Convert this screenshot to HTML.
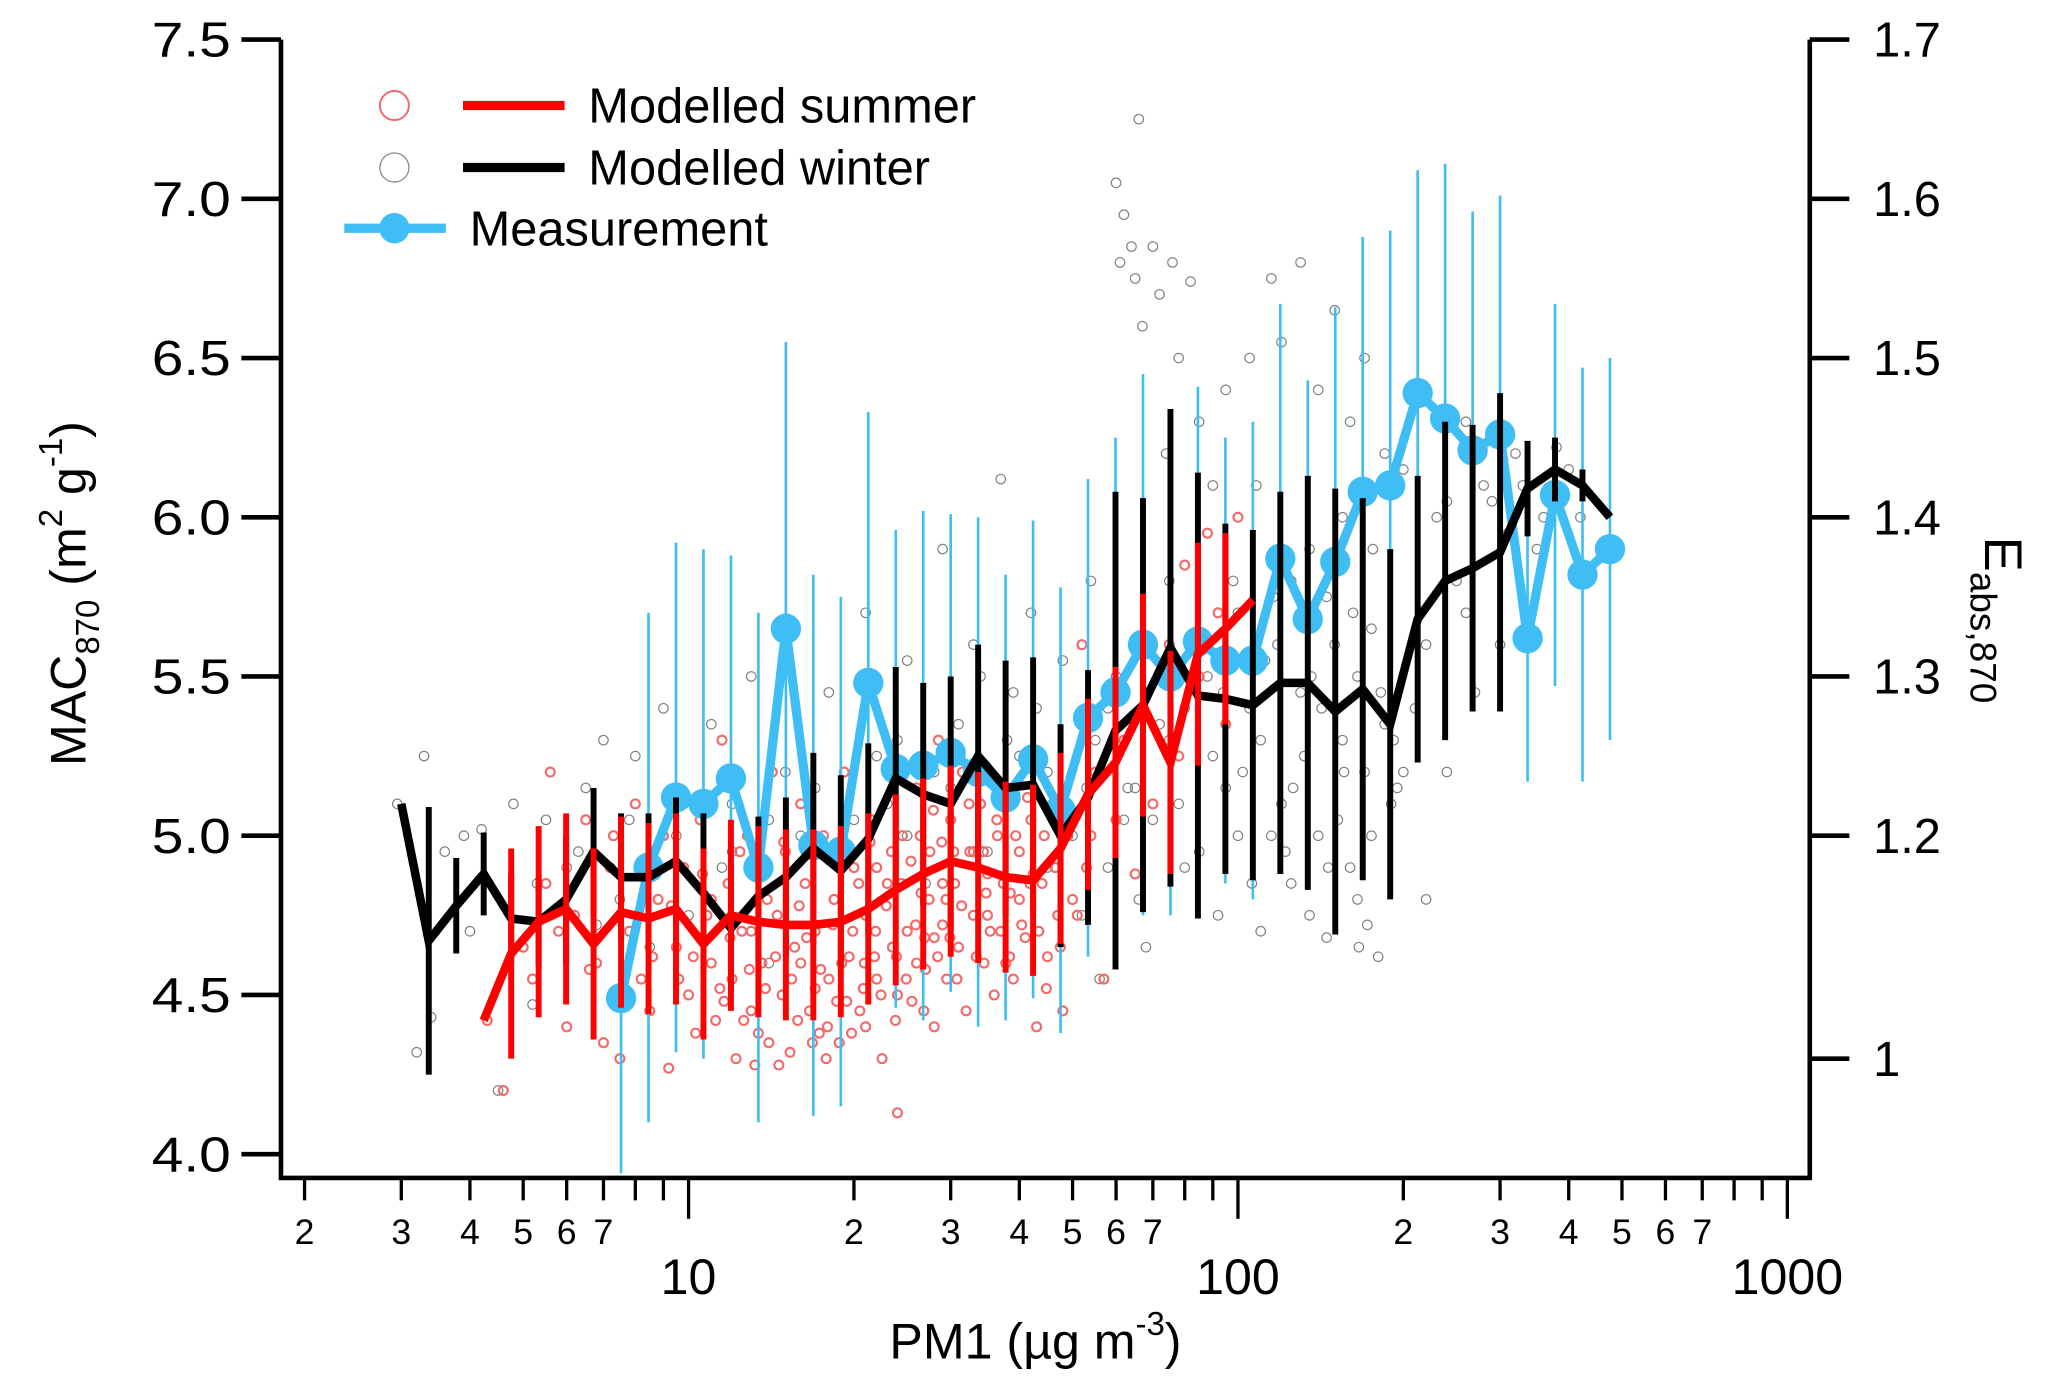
<!DOCTYPE html>
<html><head><meta charset="utf-8"><style>
html,body{margin:0;padding:0;background:#fff;}
svg{display:block;font-family:"Liberation Sans",Arial,sans-serif;}
</style></head><body>
<svg id="chart" width="2067" height="1387" viewBox="0 0 1567 1051.5" xmlns="http://www.w3.org/2000/svg">
<g id="scatter"></g>
<g id="series"></g>
<g id="axes"></g>
</svg>
<script>
// ---- data ----
const winterMean = [5.10,4.67,4.78,4.88,4.74,4.73,4.80,4.95,4.87,4.87,4.92,4.82,4.71,4.81,4.87,4.96,4.89,4.99,5.18,5.13,5.10,5.25,5.15,5.16,5.00,5.12,5.33,5.41,5.59,5.44,5.43,5.41,5.48,5.48,5.39,5.46,5.35,5.68,5.80,5.84,5.89,6.09,6.15,6.10,6.00];
const winterErr  = [0,0.42,0.15,0.13,0.14,0.14,0.2,0.2,0.2,0.2,0.2,0.25,0.2,0.25,0.25,0.3,0.3,0.3,0.35,0.35,0.4,0.35,0.4,0.4,0.35,0.4,0.75,0.65,0.75,0.7,0.55,0.55,0.6,0.65,0.7,0.6,0.55,0.45,0.5,0.45,0.5,0.15,0.1,0.05,0];
const summerStart = 3;
const summerMean = [4.42,4.63,4.73,4.77,4.66,4.76,4.74,4.77,4.66,4.75,4.73,4.72,4.72,4.73,4.77,4.83,4.88,4.92,4.90,4.87,4.86,4.96,5.13,5.23,5.41,5.23,5.57,5.65,5.74];
const summerErr  = [0,0.33,0.3,0.3,0.3,0.3,0.3,0.3,0.3,0.3,0.3,0.3,0.3,0.3,0.3,0.3,0.3,0.3,0.3,0.3,0.3,0.3,0.3,0.3,0.35,0.35,0.35,0.3,0];
const measStart = 8;
const measMean = [4.49,4.90,5.12,5.10,5.18,4.90,5.65,4.97,4.95,5.48,5.21,5.22,5.26,5.20,5.12,5.24,5.08,5.37,5.45,5.60,5.50,5.61,5.55,5.55,5.87,5.68,5.86,6.08,6.10,6.39,6.31,6.21,6.26,5.62,6.07,5.82,5.90];
const measErr  = [0.55,0.8,0.8,0.8,0.7,0.8,0.9,0.85,0.8,0.85,0.75,0.8,0.75,0.8,0.7,0.75,0.7,0.75,0.8,0.85,0.75,0.8,0.7,0.75,0.8,0.75,0.8,0.8,0.8,0.7,0.8,0.75,0.75,0.45,0.6,0.65,0.6];
const summerPts = [[4.3,4.42],[4.6,4.2],[5,4.65],[5.2,4.55],[5.5,4.85],[5.6,5.2],[6,4.4],[6.2,4.75],[6.5,5.05],[6.8,4.6],[7,4.35],[7.2,4.9],[7.5,4.3],[7.8,4.7],[8,5.1],[8.2,4.55],[8.5,4.45],[8.8,4.8],[9,5.0],[9.2,4.27],[9.5,4.65],[9.8,4.9],[10,4.5],[10.3,4.38],[10.5,5.05],[10.8,4.75],[11,4.6],[11.2,4.42],[11.5,5.3],[11.8,4.85],[12,4.55],[12.2,4.3],[12.5,4.7],[12.8,5.0],[13,4.45],[13.3,4.9],[13.6,4.6],[14,4.35],[14.2,5.2],[14.5,4.75],[14.8,4.5],[15,4.95],[15.3,4.32],[15.6,4.65],[16,5.1],[16.3,4.85],[16.6,4.45],[17,4.7],[17.3,4.38],[17.6,5.0],[18,4.55],[18.4,4.8],[18.8,4.35],[19.2,5.2],[19.6,4.62],[20,4.9],[20.5,4.45],[21,4.75],[21.5,5.05],[22,4.55],[22.5,4.3],[23,4.85],[23.5,4.65],[24,4.13],[24.5,5.0],[25,4.7],[25.5,4.48],[26,5.15],[26.5,4.82],[27,4.58],[27.5,4.95],[28,4.4],[28.5,5.3],[29,4.72],[29.5,4.55],[30,5.05],[30.5,4.85],[31,4.65],[31.5,5.2],[32,4.45],[32.5,4.95],[33,4.75],[34,5.1],[34.5,4.6],[35,4.88],[36,4.5],[36.5,5.0],[37,4.7],[38,5.15],[38.5,4.82],[39,4.55],[40,4.95],[41,4.68],[42,5.05],[43,4.4],[44,4.85],[45,4.62],[46,5.1],[47,4.75],[48,4.45],[49,5.0],[50,4.8],[52,5.6],[53,4.9],[55,5.2],[57,4.55],[60,5.05],[62,5.3],[65,4.88],[68,5.45],[70,5.1],[75,5.6],[78,5.25],[80,5.85],[85,5.5],[88,5.95],[92,5.7],[95,5.35],[100,6.0],[19,4.6],[22,4.9],[26,4.6],[29,4.85],[33,4.95],[16,4.6],[13,4.7],[11,4.8],[24,4.5],[21,4.4],[35,4.75],[40,4.8],[17,4.52],[28,4.68],
[10.2,4.62],[10.6,4.88],[11.4,4.52],[11.9,4.68],[12.4,4.95],[12.9,4.58],[13.4,4.38],[13.9,4.8],[14.4,4.62],[14.9,4.98],[15.4,4.55],[15.9,4.78],[16.4,4.68],[16.9,4.95],[17.4,4.58],[17.9,4.4],[18.3,4.72],[18.9,4.92],[19.4,4.48],[19.9,4.7],[20.4,4.85],[20.9,4.6],[21.4,4.98],[21.9,4.7],[22.4,4.5],[22.9,4.78],[23.4,4.95],[23.9,4.62],[24.4,4.85],[24.9,4.55],[25.4,4.92],[25.9,4.72],[26.4,5.0],[26.9,4.68],[27.4,4.8],[27.9,5.08],[28.4,4.62],[28.9,4.98],[29.4,4.8],[29.9,4.68],[30.4,4.95],[31.4,4.78],[32.4,5.1],[33.4,4.62],[34.4,4.95],[35.4,4.7],[36.4,5.05],[37.4,4.85],[38.4,4.62],[39.4,5.0],[40.4,4.72],[41.4,5.12],[42.4,4.88],[43.4,4.7],[44.4,5.0],[46.5,4.9],[11.6,4.48],[12.6,4.42],[13.2,4.28],[15.8,4.42],[17.8,4.3],[19.8,4.38],[14.6,4.28],[16.8,4.35],[18.6,4.48],[13.8,4.52],[9.6,4.55],[8.6,4.62],[7.6,4.48],[6.6,4.58],[5.8,4.7],[7.3,5.0],[9.3,4.78],[8.3,4.92],[30.8,4.55],[26.8,4.45],[23.8,4.42],[21.8,4.62],[20.8,4.52],[34.8,4.82],[37.8,4.6],[41.8,4.85],[44.8,4.52],[47.5,4.65],[51,4.75],[54,5.0]];
const winterPts = [[2.95,5.1],[3.2,4.32],[3.3,5.25],[3.4,4.43],[3.6,4.95],[3.9,5.0],[4,4.7],[4.2,5.02],[4.5,4.2],[4.8,5.1],[5.2,4.47],[5.5,5.05],[6,4.9],[6.5,5.15],[7,5.3],[7.5,4.8],[8,5.25],[8.5,4.65],[9,5.4],[9.5,5.0],[10,4.75],[11,5.35],[12,4.95],[13,5.5],[14,4.6],[15,5.2],[16,5.0],[18,5.45],[19,4.9],[21,5.7],[23,5.1],[25,5.55],[27,4.85],[29,5.9],[31,5.35],[33,5.6],[35,4.95],[37,6.12],[39,5.45],[42,5.7],[45,5.2],[48,5.55],[50,5.0],[52,4.75],[54,5.8],[56,4.55],[58,5.4],[60,7.05],[61,6.8],[62,6.95],[63,5.15],[64,6.85],[65,6.75],[66,7.25],[67,6.6],[68,4.65],[70,6.85],[72,6.7],[74,6.2],[75,5.3],[76,6.8],[78,6.5],[80,4.9],[82,6.74],[85,6.3],[88,5.5],[90,6.1],[92,4.75],[95,6.4],[98,5.8],[100,5.0],[105,6.5],[108,6.1],[110,4.7],[115,6.75],[118,5.6],[120,6.55],[125,4.85],[130,6.8],[135,5.9],[140,6.4],[145,4.68],[150,6.65],[155,5.3],[160,6.3],[165,4.8],[170,6.5],[175,5.65],[180,4.62],[185,6.2],[190,5.1],[200,6.15],[210,5.4],[220,4.8],[230,6.0],[240,5.2],[250,5.8],[260,6.3],[270,5.45],[280,6.1],[300,5.6],[320,6.2],[350,5.9],[380,6.22],[420,6.0],[110,5.3],[120,5.1],[130,5.45],[140,5.0],[150,5.6],[160,4.9],[170,5.2],[100,5.7],[90,5.25],[85,4.95],[75,5.8],[70,5.05],[60,5.5],[55,5.3],[125,5.8],[145,5.75],[175,5.0],[195,5.15],[135,4.75],[115,5.0],[105,5.4],[95,5.15],[80,5.4],[65,5.15],[155,6.0],[165,5.5],[185,5.35],[25,5.0],[30,5.15],[40,5.25],[45,4.9],[20,5.05],[12,5.1],[8.8,4.9],[6.8,4.72],
[102,5.2],[112,5.55],[122,4.95],[132,5.25],[142,5.4],[152,5.05],[162,5.7],[172,4.72],[182,5.45],[192,5.3],[106,4.85],[116,5.75],[126,5.15],[136,5.5],[146,4.9],[156,5.2],[166,4.65],[176,5.9],[94,5.45],[86,5.6],[78,5.1],[72,5.35],[66,4.8],[62,5.05],[58,4.9],[53,5.15],[48,5.1],[43,5.4],[38,5.3],[34,5.5],[28,5.2],[24,5.3],[22,5.25],[17,5.15],[14,5.05],[11.5,4.9],[9.8,5.1],[7.8,5.05],[6.3,4.95],[5.3,4.85],[260,5.7],[290,6.05],[310,5.95],[240,6.05],[220,5.6],[200,5.2],[330,6.1],[360,6.0],[400,6.15]];
const yTicks = [4.0,4.5,5.0,5.5,6.0,6.5,7.0,7.5];
const yTickLabels = ["4.0","4.5","5.0","5.5","6.0","6.5","7.0","7.5"];
const rTickValues = [7.5,7.0,6.5,6.0,5.5,5.0,4.3];
const rTickLabels = ["1.7","1.6","1.5","1.4","1.3","1.2","1"];
const xDecades = [10,100,1000];
const xDecadeLabels = ["10","100","1000"];
const xMinor = [2,3,4,5,6,7,8,9,20,30,40,50,60,70,80,90,200,300,400,500,600,700,800,900];

// ---- scales ----
const X0=213, X1=1372, YT=30, YB=893;
const xs = v => 522 + 416.5*Math.log10(v/10);
const ys = v => 875 - (v-4.0)*(845/3.5);
const binX = i => 3*Math.pow(10,0.05*i);
const NS="http://www.w3.org/2000/svg";
function mk(tag, attrs, parent){const e=document.createElementNS(NS,tag);for(const k in attrs)e.setAttribute(k,attrs[k]);parent.appendChild(e);return e;}
const gS=document.getElementById('scatter'), gSer=document.getElementById('series'), gA=document.getElementById('axes');

winterPts.forEach(p=>{const c=mk('circle',{cx:xs(p[0]),cy:ys(p[1]),r:3.6,fill:'none',stroke:'#808080','stroke-width':0.9},gS);

});
summerPts.forEach(p=>{const c=mk('circle',{cx:xs(p[0]),cy:ys(p[1]),r:3.4,fill:'none',stroke:'#f26a6a','stroke-width':1.6},gS);

});

function drawSeries(name, start, mean, err, color, lw, ew, marker){
  const g=mk('g',{},gSer);
  
  
  mean.forEach((m,k)=>{ if(err[k]>0){const x=xs(binX(start+k));
    const l=mk('line',{x1:x,x2:x,y1:ys(m-err[k]),y2:ys(m+err[k]),stroke:color,'stroke-width':ew},g);
    
    }});
  const pts=mean.map((m,k)=>xs(binX(start+k)).toFixed(1)+','+ys(m).toFixed(1)).join(' ');
  const pl=mk('polyline',{points:pts,fill:'none',stroke:color,'stroke-width':lw,'stroke-linejoin':'miter'},g);
  
  
  if(marker){mean.forEach((m,k)=>{const c=mk('circle',{cx:xs(binX(start+k)),cy:ys(m),r:11.5,fill:color},g);
    
    });}
}
drawSeries('measurement',measStart,measMean,measErr,'#3fbdf5',7,2,true);
drawSeries('winter',0,winterMean,winterErr,'#000',6.5,4.5,false);
drawSeries('summer',summerStart,summerMean,summerErr,'#ff0000',6.5,4.5,false);

// axes
mk('line',{x1:X0,x2:X0,y1:YT,y2:YB+1.5,stroke:'#000','stroke-width':3.5},gA);
mk('line',{x1:X0-1.5,x2:X1+1.5,y1:YB,y2:YB,stroke:'#000','stroke-width':3.5},gA);
mk('line',{x1:X1,x2:X1,y1:YT,y2:YB+1.5,stroke:'#000','stroke-width':3.5},gA);
yTicks.forEach((v,k)=>{const y=ys(v);mk('line',{x1:X0-30,x2:X0,y1:y,y2:y,stroke:'#000','stroke-width':3.5},gA);
  const t=mk('text',{x:X0-38,y:y+13,'text-anchor':'end','font-size':37,textLength:60,lengthAdjust:'spacingAndGlyphs'},gA);t.textContent=yTickLabels[k];
  
  });
rTickValues.forEach((v,k)=>{const y=ys(v);mk('line',{x1:X1,x2:X1+30,y1:y,y2:y,stroke:'#000','stroke-width':3.5},gA);
  const t=mk('text',{x:X1+48,y:y+13,'text-anchor':'start','font-size':37},gA);t.textContent=rTickLabels[k];
  
  });
xMinor.forEach(v=>{const x=xs(v);mk('line',{x1:x,x2:x,y1:YB,y2:910,stroke:'#000','stroke-width':2.5},gA);
  const d=Math.round(v/Math.pow(10,Math.floor(Math.log10(v))));
  if(d<=7){const t=mk('text',{x:x,y:943,'text-anchor':'middle','font-size':27},gA);t.textContent=String(d);
  
  }});
xDecades.forEach((v,k)=>{const x=xs(v);mk('line',{x1:x,x2:x,y1:YB,y2:924,stroke:'#000','stroke-width':2.5},gA);
  const t=mk('text',{x:x,y:981,'text-anchor':'middle','font-size':38},gA);t.textContent=xDecadeLabels[k];
  
  });
</script>
<svg style="position:absolute;left:0;top:0" width="2067" height="1387" viewBox="0 0 1567 1051.5" xmlns="http://www.w3.org/2000/svg" font-family="Liberation Sans, Arial, sans-serif">
<text x="785" y="1030" text-anchor="middle" font-size="38">PM1 (µg m<tspan dy="-18" font-size="25">-3</tspan><tspan dy="18">)</tspan></text>
<text transform="translate(65,450) rotate(-90)" text-anchor="middle" font-size="38">MAC<tspan dy="10" font-size="25">870</tspan><tspan dy="-10"> (m</tspan><tspan dy="-18" font-size="25">2</tspan><tspan dy="18"> g</tspan><tspan dy="-18" font-size="25">-1</tspan><tspan dy="18">)</tspan></text>
<text transform="translate(1505,470) rotate(90)" text-anchor="middle" font-size="40">E<tspan dy="11" font-size="28">abs,870</tspan></text>
<g>
<circle cx="299" cy="80" r="11" fill="none" stroke="#f26a6a" stroke-width="1.5"/>
<line x1="351" x2="428" y1="80" y2="80" stroke="#ff0000" stroke-width="7"/>
<text x="446" y="93" font-size="37">Modelled summer</text></g>
<g>
<circle cx="299" cy="127" r="11" fill="none" stroke="#8a8a8a" stroke-width="1"/>
<line x1="351" x2="428" y1="127" y2="127" stroke="#000" stroke-width="7"/>
<text x="446" y="140" font-size="37">Modelled winter</text></g>
<g>
<line x1="261" x2="338" y1="173" y2="173" stroke="#3fbdf5" stroke-width="7"/>
<circle cx="299" cy="173" r="11.5" fill="#3fbdf5"/>
<text x="356" y="186" font-size="37">Measurement</text></g>
</svg>
</body></html>
